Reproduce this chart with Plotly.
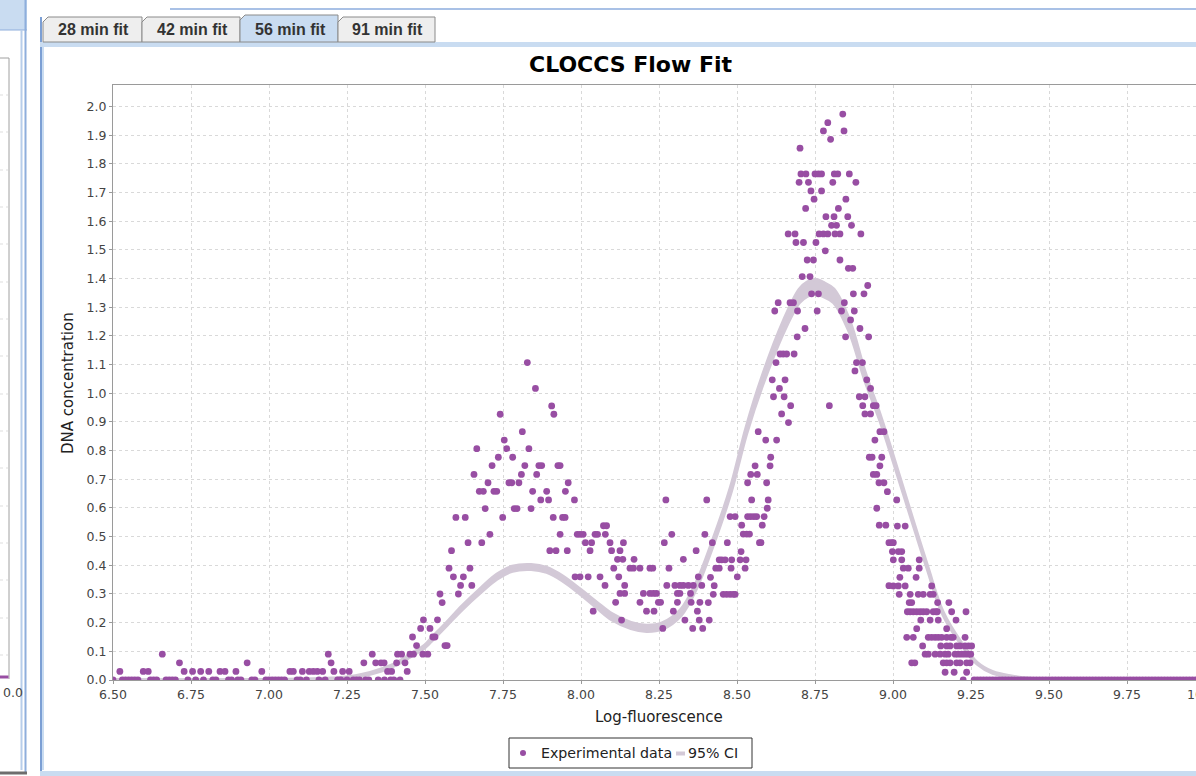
import plotly.graph_objects as go

# ---------------- data ----------------
low_left = [(6.522,0.03),(6.597,0.03),(6.613,0.03),(6.658,0.09),(6.713,0.06),(6.728,0.03),(6.755,0.03),
            (6.781,0.03),(6.807,0.03),(6.843,0.03),(6.859,0.03),(6.894,0.03),(6.930,0.06),(6.977,0.03),
            (7.067,0.03),(7.078,0.03),(7.107,0.03),(7.129,0.03),(7.142,0.03),(7.155,0.03),(7.172,0.03),
            (7.190,0.09),(7.199,0.06),(7.208,0.03)]

rise_1 = [(7.236,0.03),(7.257,0.03),(7.304,0.06),(7.331,0.09),(7.342,0.06),(7.359,0.06),(7.369,0.06),
          (7.380,0.03),(7.393,0.03),(7.409,0.06),(7.412,0.09),(7.425,0.09),(7.436,0.06),(7.443,0.03),
          (7.452,0.09),(7.460,0.15),(7.463,0.09),(7.473,0.12),(7.486,0.18),(7.493,0.09),(7.495,0.21),
          (7.509,0.09),(7.516,0.18),(7.525,0.15),(7.532,0.15),(7.540,0.21),(7.548,0.30),(7.555,0.27),
          (7.564,0.12),(7.571,0.12)]

peak_1 = [(7.577,0.390),(7.585,0.451),(7.591,0.360),(7.599,0.567),(7.607,0.300),(7.614,0.330),(7.623,0.360),
          (7.629,0.567),(7.638,0.479),(7.644,0.390),(7.650,0.330),(7.657,0.717),(7.666,0.807),(7.674,0.658),
          (7.682,0.479),(7.687,0.658),(7.693,0.598),(7.702,0.688),(7.708,0.508),(7.715,0.748),(7.721,0.658),
          (7.730,0.658),(7.735,0.777),(7.741,0.927),(7.749,0.567),(7.754,0.837),(7.762,0.807),(7.769,0.688),
          (7.778,0.688),(7.781,0.777),(7.786,0.598),(7.795,0.598),(7.801,0.688),(7.809,0.717),(7.812,0.866),
          (7.820,0.748),(7.828,1.107),(7.833,0.807),(7.840,0.598),(7.845,0.658),(7.854,1.017),(7.858,0.717),
          (7.865,0.748),(7.871,0.628),(7.874,0.748),(7.890,0.658),(7.896,0.628),(7.900,0.451),(7.906,0.956),
          (7.911,0.567),(7.913,0.927),(7.920,0.451),(7.926,0.748),(7.933,0.748),(7.933,0.508),(7.941,0.567),
          (7.949,0.567),(7.950,0.658),(7.956,0.451),(7.959,0.688),(7.979,0.628),(7.981,0.360),(7.988,0.508)]

valley = [(7.997,0.508),(7.997,0.360),(8.007,0.508),(8.014,0.479),(8.023,0.360),(8.029,0.451),(8.034,0.479),
          (8.039,0.240),(8.045,0.508),(8.053,0.508),(8.061,0.360),(8.072,0.538),(8.077,0.330),(8.078,0.508),
          (8.082,0.538),(8.093,0.479),(8.098,0.451),(8.105,0.390),(8.111,0.271),(8.117,0.421),(8.121,0.360),
          (8.125,0.451),(8.125,0.302),(8.130,0.209),(8.134,0.421),(8.136,0.479),(8.140,0.330),(8.140,0.302),
          (8.157,0.390),(8.168,0.390),(8.170,0.421),(8.189,0.390),(8.189,0.271),(8.200,0.302),(8.210,0.240),
          (8.221,0.390),(8.221,0.302),(8.230,0.390),(8.232,0.302),(8.234,0.240),(8.242,0.302),(8.248,0.271),
          (8.255,0.271),(8.262,0.180),(8.267,0.479),(8.272,0.628),(8.275,0.330),(8.282,0.390),(8.291,0.508),
          (8.296,0.240),(8.301,0.330),(8.309,0.302),(8.309,0.271),(8.317,0.330),(8.317,0.302),(8.328,0.421),
          (8.328,0.330),(8.333,0.209),(8.344,0.330),(8.351,0.302),(8.353,0.271),(8.358,0.180),(8.360,0.330),
          (8.369,0.451),(8.373,0.240),(8.376,0.360),(8.379,0.209),(8.381,0.271),(8.387,0.330),(8.390,0.180),
          (8.397,0.508)]

rise_2 = [(8.403,0.628),(8.408,0.270),(8.411,0.209),(8.415,0.358),(8.421,0.479),(8.424,0.299),(8.427,0.329),
          (8.432,0.390),(8.443,0.390),(8.443,0.419),(8.451,0.419),(8.456,0.299),(8.462,0.419),(8.467,0.299),
          (8.469,0.479),(8.478,0.299),(8.478,0.570),(8.481,0.390),(8.483,0.419),(8.488,0.299),(8.494,0.299),
          (8.494,0.570),(8.501,0.360),(8.510,0.419),(8.513,0.448),(8.515,0.540),(8.520,0.509),(8.526,0.390),
          (8.529,0.419),(8.531,0.509),(8.534,0.570),(8.534,0.688),(8.540,0.509),(8.544,0.570),(8.544,0.717),
          (8.547,0.628),(8.554,0.570),(8.558,0.747),(8.563,0.570),(8.565,0.717),(8.568,0.866),(8.572,0.479),
          (8.577,0.479),(8.581,0.540),(8.587,0.570),(8.592,0.837),(8.595,0.688),(8.597,0.599),(8.600,0.628),
          (8.606,0.747),(8.608,0.777),(8.617,0.988),(8.627,0.837),(8.643,0.928),(8.651,0.988),(8.665,0.898),
          (8.672,0.957),(8.796,0.957),(8.892,0.988),(8.903,0.957),(8.910,0.988),(8.910,0.928),(8.924,0.777),
          (8.928,0.928),(8.933,0.777),(8.937,0.957),(8.937,0.717),(8.942,0.837),(8.946,0.957),(8.948,0.717),
          (8.948,0.599),(8.955,0.688),(8.956,0.540),(8.958,0.866),(8.958,0.747),(8.964,0.777),(8.971,0.866),
          (8.971,0.688),(8.977,0.540),(8.982,0.657),(8.987,0.479),(8.987,0.329),(8.996,0.479),(8.998,0.448)]

peak_2 = [(8.839,1.974),(8.791,1.944),(8.777,1.915),(8.843,1.915),(8.800,1.886),(8.702,1.855),
          (8.705,1.765),(8.721,1.765),(8.750,1.765),(8.761,1.765),(8.771,1.765),(8.812,1.765),(8.823,1.765),(8.860,1.765),
          (8.699,1.736),(8.729,1.736),(8.807,1.736),(8.881,1.736),(8.737,1.706),(8.771,1.706),
          (8.747,1.677),(8.849,1.677),(8.720,1.645),(8.825,1.645),(8.785,1.616),(8.811,1.616),(8.855,1.616),
          (8.803,1.586),(8.819,1.586),(8.867,1.586),
          (8.664,1.556),(8.686,1.556),(8.763,1.556),(8.777,1.556),(8.791,1.556),(8.814,1.556),(8.830,1.556),(8.897,1.556),
          (8.689,1.526),(8.713,1.526),(8.753,1.526),(8.783,1.497),(8.725,1.465),(8.745,1.465),(8.830,1.465),
          (8.857,1.436),(8.871,1.436),(8.709,1.407),(8.734,1.407),(8.919,1.376),
          (8.739,1.347),(8.761,1.347),(8.873,1.347),(8.907,1.347),(8.632,1.316),(8.670,1.316),(8.681,1.316),(8.844,1.316),
          (8.621,1.287),(8.694,1.287),(8.757,1.287),(8.835,1.287),(8.876,1.287),(8.864,1.256),(8.718,1.226),(8.894,1.226),
          (8.693,1.197),(8.848,1.197),(8.922,1.197),(8.638,1.137),(8.648,1.137),(8.659,1.137),(8.683,1.137),
          (8.625,1.107),(8.883,1.107),(8.902,1.107),(8.878,1.078),(8.613,1.047),(8.654,1.047),(8.916,1.047),
          (8.636,1.017),(8.928,1.017)]

fall_2 = [(9.001,0.479),(9.001,0.419),(9.001,0.328),(9.012,0.628),(9.014,0.537),(9.017,0.448),(9.017,0.328),
          (9.020,0.299),(9.022,0.358),(9.028,0.448),(9.028,0.419),(9.033,0.390),(9.039,0.537),(9.039,0.328),
          (9.044,0.149),(9.046,0.238),(9.049,0.390),(9.052,0.270),(9.055,0.299),(9.055,0.238),(9.060,0.270),
          (9.060,0.060),(9.065,0.238),(9.065,0.149),(9.070,0.060),(9.074,0.358),(9.076,0.238),(9.076,0.179),
          (9.081,0.299),(9.084,0.419),(9.084,0.390),(9.087,0.238),(9.089,0.209),(9.095,0.119),(9.097,0.299),
          (9.097,0.238),(9.103,0.090),(9.108,0.238),(9.113,0.149),(9.113,0.090),(9.119,0.299),(9.119,0.209),
          (9.124,0.328),(9.124,0.149),(9.129,0.299),(9.129,0.238),(9.135,0.149),(9.135,0.090),(9.138,0.238),
          (9.142,0.238),(9.143,0.270),(9.145,0.209),(9.145,0.149),(9.151,0.090),(9.153,0.119),(9.156,0.149),
          (9.161,0.060),(9.167,0.090),(9.167,0.027),(9.172,0.179),(9.172,0.149),(9.172,0.119),(9.172,0.060),
          (9.177,0.090),(9.179,0.270),(9.183,0.119),(9.183,0.060),(9.186,0.149),(9.188,0.238),(9.193,0.149),
          (9.196,0.027),(9.199,0.090),(9.202,0.209),(9.204,0.119),(9.204,0.060),(9.209,0.090),(9.215,0.119),
          (9.215,0.060),(9.220,0.090),(9.225,0.000),(9.231,0.149),(9.231,0.119),(9.231,0.090),(9.234,0.238),
          (9.236,0.060),(9.236,0.027),(9.242,0.119),(9.242,0.090),(9.247,0.060),(9.249,0.090),(9.252,0.119)]

zero_x_left = [6.50, 6.53, 6.54, 6.55, 6.56, 6.57, 6.58, 6.62, 6.63, 6.64, 6.67, 6.68, 6.69, 6.70, 6.74,
               6.765, 6.79, 6.82, 6.83, 6.87, 6.88, 6.90, 6.91, 6.945, 6.955, 6.99, 7.00, 7.01, 7.02, 7.03,
               7.04, 7.05, 7.09, 7.10, 7.12, 7.16, 7.18, 7.22, 7.23, 7.25, 7.27, 7.28, 7.29, 7.31, 7.32,
               7.35, 7.37, 7.39, 7.40, 7.42]
zero_x_right = [9.26, 9.27, 9.28, 9.29, 9.30, 9.31, 9.32, 9.33, 9.34, 9.35, 9.36, 9.37, 9.38, 9.39, 9.40,
                9.41, 9.42, 9.43, 9.44, 9.45, 9.46, 9.47, 9.48, 9.49, 9.50, 9.51, 9.52, 9.53, 9.54, 9.55,
                9.56, 9.57, 9.58, 9.59, 9.60, 9.61, 9.62, 9.63, 9.64, 9.65, 9.66, 9.67, 9.68, 9.69, 9.70,
                9.71, 9.72, 9.73, 9.74, 9.75, 9.76, 9.77, 9.78, 9.79, 9.80, 9.81, 9.82, 9.83, 9.84, 9.85,
                9.86, 9.87, 9.88, 9.89, 9.90, 9.91, 9.92, 9.93, 9.94, 9.95, 9.96, 9.97, 9.98, 9.99, 10.00]

fit_x   = [6.50, 7.00, 7.20, 7.25, 7.30, 7.36, 7.41, 7.46, 7.50, 7.52, 7.57, 7.62, 7.68, 7.73, 7.78, 7.84,
           7.89, 7.94, 8.00, 8.05, 8.10, 8.16, 8.21, 8.26, 8.32, 8.37, 8.42, 8.48, 8.53, 8.58, 8.65, 8.70,
           8.725, 8.75, 8.775, 8.81, 8.86, 8.91, 8.96, 9.00, 9.06, 9.11, 9.16, 9.22, 9.27, 9.32, 9.38, 9.43,
           9.47, 9.55, 10.00]
fit_mid = [0.000, 0.000, 0.004, 0.008, 0.017, 0.035, 0.057, 0.090, 0.118, 0.140, 0.196, 0.253, 0.314, 0.360,
           0.388, 0.394, 0.384, 0.355, 0.306, 0.262, 0.220, 0.190, 0.180, 0.188, 0.235, 0.330, 0.470, 0.663,
           0.870, 1.040, 1.235, 1.340, 1.363, 1.372, 1.363, 1.340, 1.235, 1.060, 0.910, 0.775, 0.565, 0.393,
           0.233, 0.125, 0.058, 0.026, 0.012, 0.005, 0.002, 0.000, 0.000]
ci_half = [0.001, 0.001, 0.002, 0.002, 0.002, 0.003, 0.003, 0.004, 0.004, 0.005, 0.005, 0.006, 0.007, 0.008,
           0.008, 0.008, 0.008, 0.008, 0.008, 0.009, 0.010, 0.010, 0.010, 0.010, 0.010, 0.010, 0.010, 0.010,
           0.012, 0.016, 0.020, 0.023, 0.024, 0.025, 0.024, 0.023, 0.020, 0.014, 0.010, 0.008, 0.006, 0.005,
           0.004, 0.003, 0.002, 0.002, 0.001, 0.001, 0.001, 0.001, 0.001]

x_ticks = [6.50, 6.75, 7.00, 7.25, 7.50, 7.75, 8.00, 8.25, 8.50, 8.75, 9.00, 9.25, 9.50, 9.75]
y_ticks = [0.0, 0.1, 0.2, 0.3, 0.4, 0.5, 0.6, 0.7, 0.8, 0.9, 1.0, 1.1, 1.2, 1.3, 1.4, 1.5, 1.6, 1.7,
           1.8, 1.9, 2.0]
tab_labels = ["28 min fit", "42 min fit", "56 min fit", "91 min fit"]

# ---------------- build ----------------
W, H = 1196, 776
PL, PR, PT, PB = 113, 1196, 85, 680          # plot area in pixels
X_PX = 312.0                                  # pixels per x unit
Y_PX = 286.7                                  # pixels per y unit

def px(x):
    return (x - PL) / (PR - PL)

def py(y):
    return (PB - y) / (PB - PT)

exp = low_left + rise_1 + peak_1 + valley + rise_2 + peak_2 + fall_2
exp_x = [p[0] for p in exp] + zero_x_left + zero_x_right
exp_y = [p[1] for p in exp] + [0.0] * (len(zero_x_left) + len(zero_x_right))

ci_lo = [m - h for m, h in zip(fit_mid, ci_half)]
ci_hi = [m + h for m, h in zip(fit_mid, ci_half)]

PURPLE = "#984ea3"
BAND = "#d3c9d7"

fig = go.Figure()
fig.add_trace(go.Scatter(x=fit_x, y=ci_lo, mode="lines", line=dict(color=BAND, width=3.5, shape="spline"),
                         hoverinfo="skip", showlegend=False))
fig.add_trace(go.Scatter(x=fit_x, y=ci_hi, mode="lines", line=dict(color=BAND, width=3.5, shape="spline"),
                         fill="tonexty", fillcolor=BAND, name="95% CI", showlegend=False))
fig.add_trace(go.Scatter(x=exp_x, y=exp_y, mode="markers", name="Experimental data",
                         marker=dict(color=PURPLE, size=6.8, line=dict(width=0)), showlegend=False))

shapes = []
def rect(x0, y0, x1, y1, fill=None, line=None, lw=1, layer="below"):
    shapes.append(dict(type="rect", xref="paper", yref="paper", x0=px(x0), x1=px(x1), y0=py(y0), y1=py(y1),
                       fillcolor=fill if fill else "rgba(0,0,0,0)",
                       line=dict(color=line if line else "rgba(0,0,0,0)", width=lw if line else 0),
                       layer=layer))

def seg(x0, y0, x1, y1, color, lw=1, dash="solid", layer="above"):
    shapes.append(dict(type="line", xref="paper", yref="paper", x0=px(x0), x1=px(x1), y0=py(y0), y1=py(y1),
                       line=dict(color=color, width=lw, dash=dash), layer=layer))

def path(pts, fill, line, layer="above"):
    d = "M " + " L ".join(f"{px(a)},{py(b)}" for a, b in pts) + " Z"
    shapes.append(dict(type="path", xref="paper", yref="paper", path=d, fillcolor=fill,
                       line=dict(color=line, width=1), layer=layer))

LIGHT_BLUE = "#c9dcf1"
BORDER_BLUE = "#8eaedc"

# left (neighbouring) panel fragment
rect(0, 0, 27, 30, fill=LIGHT_BLUE, line=None, layer="above")
seg(0, 30, 27, 30, BORDER_BLUE, 1)
seg(21.5, 30, 21.5, 770, "#b7cdea", 2)
seg(25.5, 0, 25.5, 772, BORDER_BLUE, 2)
seg(0, 773, 27, 773, "#6d6d6d", 3)
seg(0, 58, 9, 58, "#a0a0a0", 1)
seg(9, 58, 9, 679, "#a0a0a0", 1)
for gy in [95, 132, 170, 207, 244, 282, 319, 356, 394, 431, 468, 506, 543, 580, 618, 655]:
    seg(0, gy, 8, gy, "#dddddd", 1, dash="dot")
seg(0, 677, 8.5, 677, PURPLE, 3)

# right panel frame
seg(41, 17, 41, 776, "#7c9fd4", 2)
seg(43, 44, 43, 770, "#c9dcf1", 2)
rect(40, 42, 1196, 47, fill=LIGHT_BLUE, layer="above")
rect(40, 771, 1196, 776, fill=LIGHT_BLUE, layer="above")
seg(170, 9, 1196, 9, "#a9c1e6", 2)

# tabs
tab_x = [43, 142, 240, 338, 435]
for i in range(4):
    x0, x1 = tab_x[i], tab_x[i + 1]
    top = 15 if i == 2 else 17
    fill = LIGHT_BLUE if i == 2 else "#eeeeee"
    path([(x0, 42), (x0, top + 5), (x0 + 5, top), (x1, top), (x1, 42)], fill, "#8a8a8a")

# legend box
rect(509, 738, 752, 768, fill="white", line="#333333", lw=1, layer="above")
shapes.append(dict(type="circle", xref="paper", yref="paper", x0=px(520), x1=px(526), y0=py(750), y1=py(756),
                   fillcolor=PURPLE, line=dict(width=0), layer="above"))
rect(676, 751.5, 685, 755.5, fill=BAND, layer="above")

annotations = []
def text(x, y, s, size, bold=False, color="#222222", xanchor="center", angle=0, family="DejaVu Sans"):
    annotations.append(dict(xref="paper", yref="paper", x=px(x), y=py(y), text=f"<b>{s}</b>" if bold else s,
                            showarrow=False, xanchor=xanchor, yanchor="middle", textangle=angle,
                            font=dict(family=family, size=size, color=color)))

for i, lab in enumerate(tab_labels):
    text((tab_x[i] + tab_x[i + 1]) / 2 + 1, 29.5, lab, 16, bold=True, color="#333333", family="Liberation Sans")

text(631, 65, "CLOCCS Flow Fit", 22, bold=True, color="#000000")
text(659, 717, "Log-fluorescence", 15, color="#222222")
text(68, 383, "DNA concentration", 15, color="#222222", angle=-90)
text(539, 753, "Experimental data", 14.2, color="#222222", xanchor="left")
text(686, 753, "95% CI", 14.2, color="#222222", xanchor="left")
text(PL + 3.5 * X_PX, 694, "10.00", 12.5, color="#444444")
text(1, 692, "0.0", 12.5, color="#444444", xanchor="left")

fig.update_layout(
    width=W, height=H, autosize=False,
    margin=dict(l=PL, r=W - PR, t=PT, b=H - PB, pad=0),
    paper_bgcolor="white", plot_bgcolor="white",
    shapes=shapes, annotations=annotations, showlegend=False,
    xaxis=dict(range=[6.5, 6.5 + (PR - PL) / X_PX], tickvals=x_ticks, ticktext=[f"{v:.2f}" for v in x_ticks],
               showgrid=True, gridcolor="#d9d9d9", griddash="3px,3px", gridwidth=1,
               showline=True, linecolor="#9a9a9a", linewidth=1, mirror=True, zeroline=False,
               ticks="outside", ticklen=3, tickcolor="#9a9a9a",
               tickfont=dict(family="DejaVu Sans", size=12.5, color="#444444")),
    yaxis=dict(range=[0, (PB - PT) / Y_PX], tickvals=y_ticks, ticktext=[f"{v:.1f}" for v in y_ticks],
               showgrid=True, gridcolor="#d9d9d9", griddash="3px,3px", gridwidth=1,
               showline=True, linecolor="#9a9a9a", linewidth=1, mirror=False, zeroline=False,
               ticks="outside", ticklen=3, tickcolor="#9a9a9a",
               tickfont=dict(family="DejaVu Sans", size=12.5, color="#444444")),
)

fig.write_html("out.html", config={"displayModeBar": False},
               post_script="document.body.style.margin='0px';document.body.style.overflow='hidden';")
